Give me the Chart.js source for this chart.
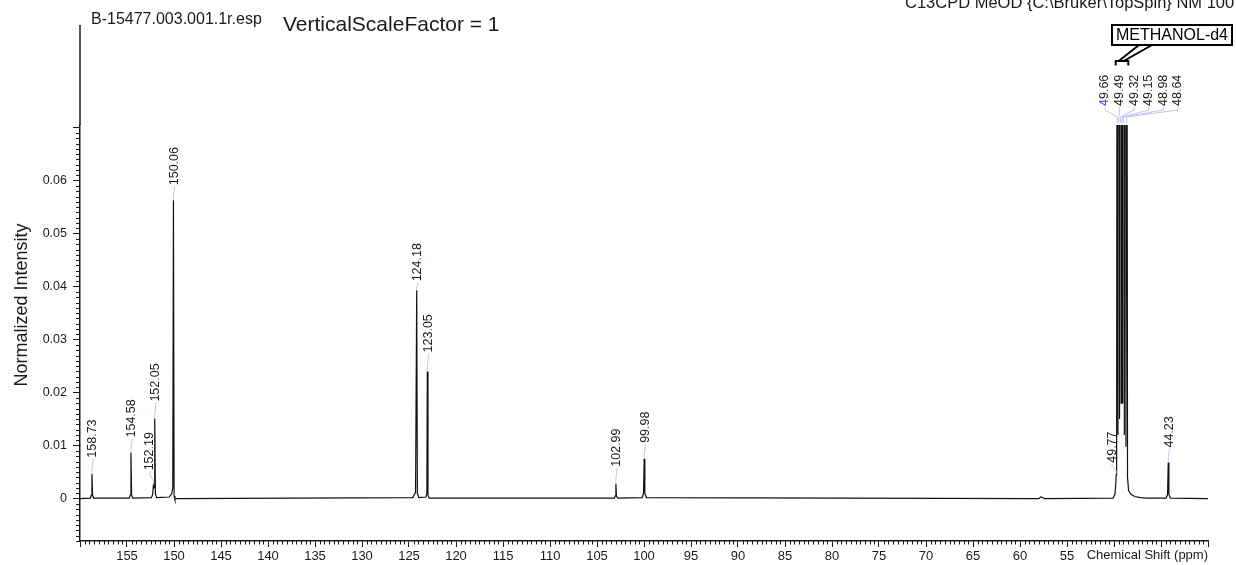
<!DOCTYPE html>
<html>
<head>
<meta charset="utf-8">
<script src="https://cdn.jsdelivr.net/npm/chart.js@4.4.1/dist/chart.umd.min.js"></script>
<style>
  html, body { margin: 0; padding: 0; background: #ffffff; }
  #wrap { width: 1236px; height: 565px; position: relative; }
</style>
</head>
<body>
<div id="wrap"><canvas id="c" width="1236" height="565"></canvas></div>
<script>
// ---------------- DATA ----------------
const shiftPpm = [
  160.00, 158.90, 158.80, 158.73, 158.66, 158.55,
  154.75, 154.65, 154.58, 154.51, 154.40,
  152.40, 152.27, 152.19, 152.12, 152.05, 151.98, 151.85,
  150.50, 150.25, 150.13, 150.06, 149.99, 149.90, 149.75,
  124.60, 124.30, 124.18, 124.11, 123.95,
  123.20, 123.10, 123.05, 122.98, 122.85,
  103.15, 103.05, 102.99, 102.93, 102.80,
  100.20, 100.05, 99.98, 99.91, 99.75,
  58.00, 57.80, 57.60, 57.40,
  50.10, 49.90, 49.80, 49.77, 49.72,
  49.66, 49.58, 49.49, 49.41, 49.32, 49.24, 49.15, 49.07, 48.98, 48.90, 48.81, 48.73, 48.64,
  48.56, 48.45, 48.20, 47.80, 47.20, 46.50,
  44.45, 44.30, 44.23, 44.16, 44.00,
  40.00
];
const intensity = [
  0.0000, 0.0001, 0.0006, 0.0047, 0.0006, 0.0001,
  0.0001, 0.0007, 0.0087, 0.0007, 0.0001,
  0.0002, 0.0008, 0.0025, 0.0020, 0.0151, 0.0010, 0.0002,
  0.0003, 0.0009, 0.0020, 0.0563, 0.0005, -0.0002, 0.0000,
  0.0002, 0.0012, 0.0393, 0.0010, 0.0002,
  0.0003, 0.0010, 0.0240, 0.0006, 0.0001,
  0.0001, 0.0005, 0.0028, 0.0005, 0.0001,
  0.0002, 0.0010, 0.0075, 0.0010, 0.0002,
  0.0000, 0.0003, 0.0002, 0.0000,
  0.0001, 0.0008, 0.0030, 0.0045, 0.0120,
  0.14, 0.012, 0.43, 0.015, 0.86, 0.018, 1.00, 0.018, 0.86, 0.012, 0.43, 0.0098, 0.14,
  0.0040, 0.0015, 0.0008, 0.0004, 0.0002, 0.0001,
  0.0001, 0.0008, 0.0068, 0.0008, 0.0001,
  0.0000
];
const peakLabels = ['158.73', '154.58', '152.19', '152.05', '150.06', '124.18', '123.05', '102.99', '99.98', '49.77', '44.23'];
const solventLabels = ['49.66', '49.49', '49.32', '49.15', '48.98', '48.64'];
const solventName = 'METHANOL-d4';
const xTickLabels = ['155', '150', '145', '140', '135', '130', '125', '120', '115', '110', '105', '100', '95', '90', '85', '80', '75', '70', '65', '60', '55'];
const yTickLabels = ['0', '0.01', '0.02', '0.03', '0.04', '0.05', '0.06'];
const fileName = 'B-15477.003.001.1r.esp';
const scaleText = 'VerticalScaleFactor = 1';
const headerText = 'C13CPD MeOD {C:\\Bruker\\TopSpin} NM 100';
const xTitle = 'Chemical Shift (ppm)';
const yTitle = 'Normalized Intensity';

// ---------------- LAYOUT / STYLE ----------------
const FONT = '"Liberation Sans", Arial, Helvetica, sans-serif';
const INK = '#1a1a1a';
const LEADER = '#c2c2f2';
const DOT = '#3a3aff';
const labelGap = {'158.73': 16, '154.58': 15, '152.19': 15, '152.05': 17, '150.06': 15, '124.18': 9,
                  '123.05': 19, '102.99': 17, '99.98': 16, '49.77': 12, '44.23': 15};
const labelShift = {'152.19': -4.5, '49.77': -5};
const solventLabelStart = 1105, solventLabelStep = 14.6, solventLabelBottom = 106;

const points = shiftPpm.map((x, i) => ({x: x, y: intensity[i]}));

function drawNumberLabel(ctx, text, cx, bottom, blueLead) {
  ctx.save();
  ctx.translate(cx, bottom);
  ctx.rotate(-Math.PI / 2);
  ctx.font = '12.5px ' + FONT;
  ctx.textAlign = 'left';
  ctx.textBaseline = 'middle';
  let pos = 0;
  for (let i = 0; i < text.length; i++) {
    const ch = text[i];
    ctx.fillStyle = (ch === '.' || i < blueLead) ? DOT : INK;
    ctx.fillText(ch, pos, 0);
    pos += ctx.measureText(ch).width;
  }
  ctx.restore();
}

const decor = {
  id: 'decor',
  afterDraw(chart) {
    const ctx = chart.ctx;
    const xs = chart.scales.x, ys = chart.scales.y;
    const area = chart.chartArea;
    ctx.save();

    // y-axis extension above plot
    ctx.strokeStyle = INK;
    ctx.lineWidth = 1.5;
    ctx.beginPath();
    ctx.moveTo(area.left, 25);
    ctx.lineTo(area.left, area.top);
    ctx.stroke();

    // minor ticks
    ctx.lineWidth = 1;
    ctx.beginPath();
    for (let i = -8; i <= 70; i++) {
      if (i % 10 === 0) continue;
      const py = Math.round(ys.getPixelForValue(i / 1000)) + 0.5;
      ctx.moveTo(area.left - 4, py);
      ctx.lineTo(area.left, py);
    }
    for (let k = 80; k <= 320; k++) {
      if (k % 10 === 0) continue;
      const px = Math.round(xs.getPixelForValue(k / 2)) + 0.5;
      ctx.moveTo(px, area.bottom);
      ctx.lineTo(px, area.bottom + 3.5);
    }
    ctx.stroke();

    // axis titles
    ctx.fillStyle = INK;
    ctx.font = '13px ' + FONT;
    ctx.textAlign = 'right';
    ctx.textBaseline = 'top';
    ctx.fillText(xTitle, area.right, 549);

    ctx.save();
    ctx.translate(22, 305);
    ctx.rotate(-Math.PI / 2);
    ctx.font = '18px ' + FONT;
    ctx.textAlign = 'center';
    ctx.textBaseline = 'middle';
    ctx.fillText(yTitle, 0, 0);
    ctx.restore();

    // headers
    ctx.textAlign = 'left';
    ctx.textBaseline = 'alphabetic';
    ctx.font = '16px ' + FONT;
    ctx.fillText(fileName, 91, 24);
    ctx.font = '21px ' + FONT;
    ctx.fillText(scaleText, 283, 31);
    ctx.font = '16.5px ' + FONT;
    ctx.fillText(headerText, 905, 8);

    // peak labels with leaders
    peakLabels.forEach(lbl => {
      const ppm = parseFloat(lbl);
      const idx = shiftPpm.indexOf(ppm);
      const h = intensity[idx];
      const px = xs.getPixelForValue(ppm);
      const top = ys.getPixelForValue(h);
      const lx = px + 1 + (labelShift[lbl] || 0);
      const bottom = top - (labelGap[lbl] || 15);
      ctx.strokeStyle = LEADER;
      ctx.lineWidth = 1;
      ctx.beginPath();
      ctx.moveTo(lx, bottom + 1);
      ctx.lineTo(lx, bottom + 4);
      ctx.lineTo(px, top - 4);
      ctx.lineTo(px, top - 1);
      ctx.stroke();
      drawNumberLabel(ctx, lbl, lx, bottom, 0);
    });

    // solvent multiplet labels
    solventLabels.forEach((lbl, i) => {
      const ppm = parseFloat(lbl);
      const px = xs.getPixelForValue(ppm);
      const lx = solventLabelStart + i * solventLabelStep;
      ctx.strokeStyle = LEADER;
      ctx.lineWidth = 1;
      ctx.beginPath();
      ctx.moveTo(lx, solventLabelBottom + 1);
      ctx.lineTo(lx, solventLabelBottom + 4);
      ctx.lineTo(px, area.top - 8);
      ctx.lineTo(px, area.top - 2);
      ctx.stroke();
      drawNumberLabel(ctx, lbl, lx, solventLabelBottom, i === 0 ? 1 : 0);
    });

    // solvent callout
    const bx0 = 1112, by0 = 25, bx1 = 1232, by1 = 45;
    ctx.fillStyle = '#ffffff';
    ctx.fillRect(bx0, by0, bx1 - bx0, by1 - by0);
    ctx.strokeStyle = '#000';
    ctx.lineWidth = 2;
    ctx.strokeRect(bx0, by0, bx1 - bx0, by1 - by0);
    ctx.fillStyle = '#000';
    ctx.font = '16px ' + FONT;
    ctx.textAlign = 'center';
    ctx.textBaseline = 'middle';
    ctx.fillText(solventName, (bx0 + bx1) / 2, (by0 + by1) / 2 + 1);
    const brL = xs.getPixelForValue(49.66) - 1.5, brR = xs.getPixelForValue(48.64) + 1.5;
    ctx.beginPath();
    ctx.moveTo(1139, by1);
    ctx.lineTo(brL + 3, 61);
    ctx.moveTo(1152, by1);
    ctx.lineTo(brL + 8, 61);
    ctx.moveTo(brL, 65.5);
    ctx.lineTo(brL, 61);
    ctx.lineTo(brR, 61);
    ctx.lineTo(brR, 65.5);
    ctx.stroke();

    ctx.restore();
  }
};

new Chart(document.getElementById('c'), {
  type: 'line',
  data: {
    datasets: [{
      data: points,
      borderColor: '#111111',
      borderWidth: 1.2,
      pointRadius: 0,
      tension: 0,
      fill: false
    }]
  },
  options: {
    responsive: false,
    animation: false,
    devicePixelRatio: 1,
    layout: { padding: { top: 125, right: 28, left: 0, bottom: 0 } },
    plugins: { legend: { display: false }, tooltip: { enabled: false } },
    scales: {
      x: {
        type: 'linear',
        min: 40, max: 160,
        reverse: true,
        afterFit: s => { s.height = 24; },
        grid: { drawOnChartArea: false, tickLength: 6, color: INK, tickColor: INK, tickWidth: 1 },
        border: { display: true, color: INK, width: 1.5 },
        ticks: {
          stepSize: 5, autoSkip: false, maxRotation: 0, minRotation: 0, includeBounds: false,
          padding: 2, color: INK, font: { size: 13, family: FONT },
          callback: v => xTickLabels.includes(String(v)) ? String(v) : ''
        }
      },
      y: {
        min: -0.008, max: 0.0705,
        afterFit: s => { s.width = 80; },
        grid: { drawOnChartArea: false, tickLength: 7, color: INK, tickColor: INK, tickWidth: 1 },
        border: { display: true, color: INK, width: 1.5 },
        ticks: {
          stepSize: 0.01, includeBounds: false, padding: 6, color: INK,
          font: { size: 12.5, family: FONT },
          callback: v => {
            const r = Math.round(v * 100);
            const s = r === 0 ? '0' : (r / 100).toFixed(2);
            return yTickLabels.includes(s) ? s : '';
          }
        }
      }
    }
  },
  plugins: [decor]
});
</script>
</body>
</html>
